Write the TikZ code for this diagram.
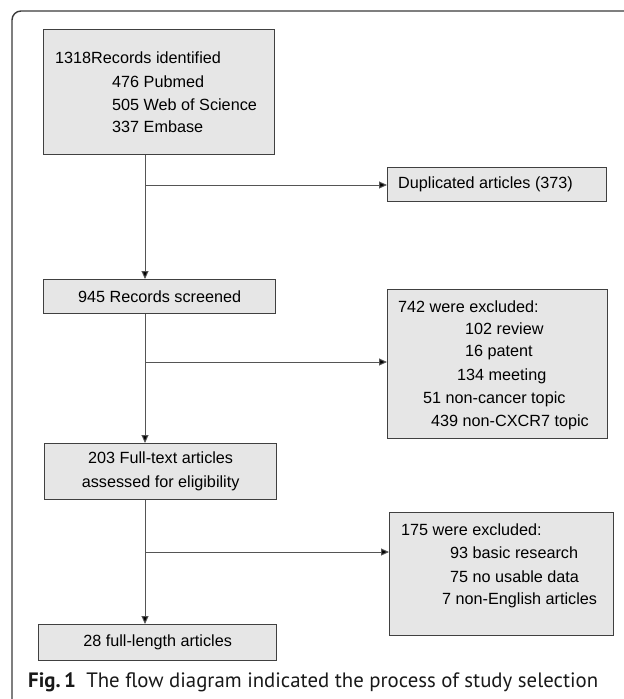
\documentclass[tikz,border=0pt]{standalone}
\usepackage{fontspec}
\setmainfont{Liberation Sans}
\newfontfamily\capfont{PT Sans}
\usetikzlibrary{arrows.meta}
\definecolor{boxfill}{HTML}{E6E6E6}
\definecolor{boxline}{HTML}{404040}
\definecolor{connc}{HTML}{555555}
\definecolor{framec}{HTML}{3A3A3A}
\begin{document}
\begin{tikzpicture}[x=1pt,y=-1pt,
  font=\fontsize{16.2}{24}\selectfont,
  box/.style={draw=boxline, fill=boxfill, line width=1.3pt, inner sep=0pt, anchor=north west, align=center},
  txt/.style={inner sep=0pt, anchor=west},
  conn/.style={draw=connc, line width=1pt},
  arr/.style={conn, -{Triangle[length=8pt,width=7pt,fill=black]}},
  framel/.style={draw=framec, line width=1.4pt}]
\useasboundingbox (0,0) rectangle (624,699);
% outer frame
\draw[framel, rounded corners=9pt] (12,700) -- (12,11) -- (625,11);
% boxes
\node[box, minimum width=231pt, minimum height=125pt] (b1) at (43,29) {};
\node[box, minimum width=232pt, minimum height=34pt] (b2) at (43,279) {945 Records screened};
\node[box, minimum width=219pt, minimum height=34pt] (dup) at (387,167) {};
\node[box, minimum width=220pt, minimum height=149pt] (b742) at (387,289) {};
\node[box, minimum width=232pt, minimum height=56pt] (b3) at (44,443) {203 Full-text articles\\assessed for eligibility};
\node[box, minimum width=224pt, minimum height=123pt] (b175) at (389,512) {};
\node[box, minimum width=238pt, minimum height=36pt] (b4) at (38,624) {28 full-length articles};
% texts
\node[txt] (t11) at (55,58) {1318Records identified};
\node[txt] (t12) at (112,82) {476 Pubmed};
\node[txt] (t13) at (112,105) {505 Web of Science};
\node[txt] (t14) at (112,127) {337 Embase};
\node[txt] (td) at (398,184) {Duplicated articles (373)};
\node[txt] (t21) at (398,307) {742 were excluded:};
\node[txt] (t22) at (465,329) {102 review};
\node[txt] (t23) at (465,353) {16 patent};
\node[txt] (t24) at (457,376) {134 meeting};
\node[txt] (t25) at (423,399) {51 non-cancer topic};
\node[txt] (t26) at (431,422) {439 non-CXCR7 topic};
\node[txt] (t31) at (401,530) {175 were excluded:};
\node[txt] (t32) at (450,553) {93 basic research};
\node[txt] (t33) at (450,577) {75 no usable data};
\node[txt] (t34) at (442,600) {7 non-English articles};
% connectors
\coordinate (j1) at (145,185);
\coordinate (j2) at (145,362);
\coordinate (j3) at (145,552);
\draw[arr] (b1.south -| j1) -- (b2.north -| j1);
\draw[arr] (j1) -- (j1 -| dup.west);
\draw[arr] (b2.south -| j2) -- (b3.north -| j2);
\draw[arr] (j2) -- (j2 -| b742.west);
\draw[arr] (b3.south -| j3) -- (b4.north -| j3);
\draw[arr] (j3) -- (j3 -| b175.west);
% caption
\node[txt, text=black!90] (cap) at (28,682) {\capfont\fontsize{20.8}{24}\selectfont\textbf{Fig.\,1}\hspace{0.5em}The flow diagram indicated the process of study selection};
\end{tikzpicture}
\end{document}
